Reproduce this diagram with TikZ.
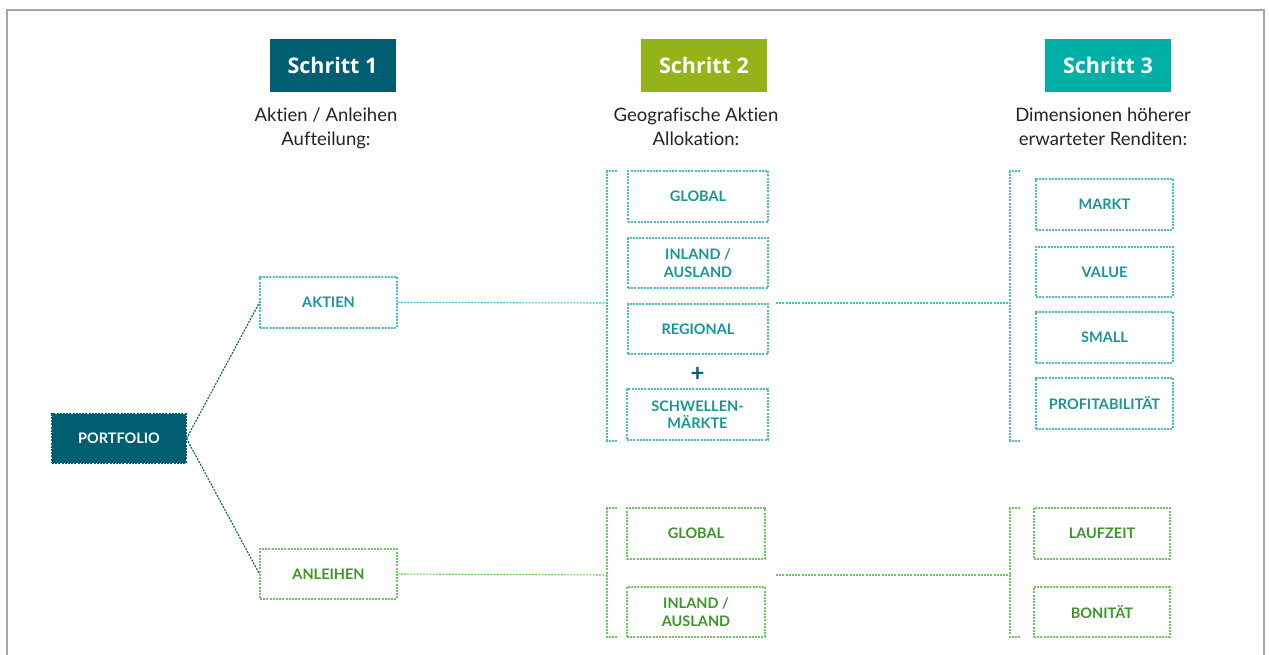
\documentclass[tikz,border=0pt]{standalone}
\usepackage{fontspec}
\setmainfont{Lato}[Ligatures=NoCommon]
\newfontfamily\headfont{Open Sans}
\definecolor{stepA}{RGB}{0,94,114}
\definecolor{stepB}{RGB}{146,180,24}
\definecolor{stepC}{RGB}{0,176,166}
\definecolor{tealline}{RGB}{70,192,192}
\definecolor{tealtext}{RGB}{24,150,150}
\definecolor{greenline}{RGB}{110,200,95}
\definecolor{greentext}{RGB}{60,150,40}
\definecolor{frame}{RGB}{165,165,165}
\definecolor{subtext}{RGB}{35,35,35}
\tikzset{
  dsh/.style={dash pattern=on 2pt off 1.2pt, line width=1.1pt},
  stepbox/.style={fill=#1, text=white, minimum width=126pt, minimum height=53pt, inner sep=0pt,
    font=\headfont\fontsize{21.5}{22}\selectfont\bfseries},
  subtitle/.style={text=subtext, align=center, font=\fontsize{18.5}{24.5}\selectfont},
  tbox/.style={draw=tealline, dsh, text=tealtext, align=center, inner sep=0pt,
    minimum width=140pt, minimum height=51pt, font=\fontsize{14.5}{17.5}\selectfont\bfseries},
  gbox/.style={draw=greenline, dsh, text=greentext, align=center, inner sep=0pt,
    minimum width=138pt, minimum height=51pt, font=\fontsize{14.5}{17.5}\selectfont\bfseries},
  tline/.style={draw=tealline, dsh},
  gline/.style={draw=greenline, dsh},
  pline/.style={draw=stepA, dsh},
}
\begin{document}
\begin{tikzpicture}[x=1pt,y=-1pt]
\useasboundingbox (0,0) rectangle (1269,655);
% frame
\draw[frame, line width=1.5pt] (7,655) -- (7,10) -- (1264,10) -- (1264,655);
% headers
\node[stepbox=stepA] (s1) at (332.5,65.5) {Schritt 1};
\node[stepbox=stepB] (s2) at (704,65.5) {Schritt 2};
\node[stepbox=stepC] (s3) at (1108,65.5) {Schritt 3};
\node[subtitle, anchor=north] (t1) at (326,104) {Aktien / Anleihen\\Aufteilung:};
\node[subtitle, anchor=north] (t2) at (696,104) {Geografische Aktien\\Allokation:};
\node[subtitle, anchor=north] (t3) at (1103,104) {Dimensionen höherer\\erwarteter Renditen:};
% step 1
\node[fill=stepA, draw=stepA, dsh, text=white, minimum width=134pt, minimum height=49pt, inner sep=0pt,
  font=\fontsize{14.5}{17}\selectfont\bfseries] (pf) at (119,438.5) {PORTFOLIO};
\node[tbox, minimum width=137pt] (ak) at (328.5,302.5) {AKTIEN};
\node[gbox, minimum width=137pt, minimum height=50pt] (an) at (328.5,574) {ANLEIHEN};
\draw[pline] (pf.east) -- (ak.west);
\draw[pline] (pf.east) -- (an.west);
% step 2 teal
\node[tbox] (g1) at (698,196.5) {GLOBAL};
\node[tbox, minimum height=50pt] (g2) at (698,263) {INLAND /\\AUSLAND};
\node[tbox, minimum height=50pt] (g3) at (698,329) {REGIONAL};
\node[text=stepA, font=\fontsize{24}{24}\selectfont\bfseries] (plus) at (697.5,374) {+};
\node[tbox, minimum width=141pt] (g4) at (697.5,414.5) {SCHWELLEN-\\MÄRKTE};
\coordinate (b1t) at (617,171);
\coordinate (b1b) at (617,441);
\coordinate (b1m) at (607,303);
\draw[tline] (b1t) -- (607,171) -- (607,441) -- (b1b);
\draw[tline] (ak.east) -- (b1m);
\coordinate (c1s) at (776,303);
\coordinate (b2m) at (1010,303);
\draw[tline] (c1s) -- (b2m);
\draw[tline] (1020,171) -- (1010,171) -- (1010,441) -- (1020,441);
% step 3 teal
\node[tbox, minimum width=137pt] (m1) at (1104.5,204.5) {MARKT};
\node[tbox, minimum width=137pt, minimum height=50pt] (m2) at (1104.5,272) {VALUE};
\node[tbox, minimum width=137pt] (m3) at (1104.5,337.5) {SMALL};
\node[tbox, minimum width=137pt] (m4) at (1104.5,403.5) {PROFITABILITÄT};
% lower green
\coordinate (b3m) at (607,575);
\draw[gline] (an.east) -- (b3m);
\draw[gline] (617,508) -- (607,508) -- (607,637) -- (617,637);
\node[gbox] (h1) at (696,533.5) {GLOBAL};
\node[gbox, minimum height=50pt] (h2) at (696,612) {INLAND /\\AUSLAND};
\coordinate (c2s) at (776,575);
\coordinate (b4m) at (1010,575);
\draw[gline] (c2s) -- (b4m);
\draw[gline] (1020,508) -- (1010,508) -- (1010,637) -- (1020,637);
\node[gbox, minimum width=136pt] (l1) at (1102,533.5) {LAUFZEIT};
\node[gbox, minimum width=136pt, minimum height=50pt] (l2) at (1102,612) {BONITÄT};
\end{tikzpicture}
\end{document}
